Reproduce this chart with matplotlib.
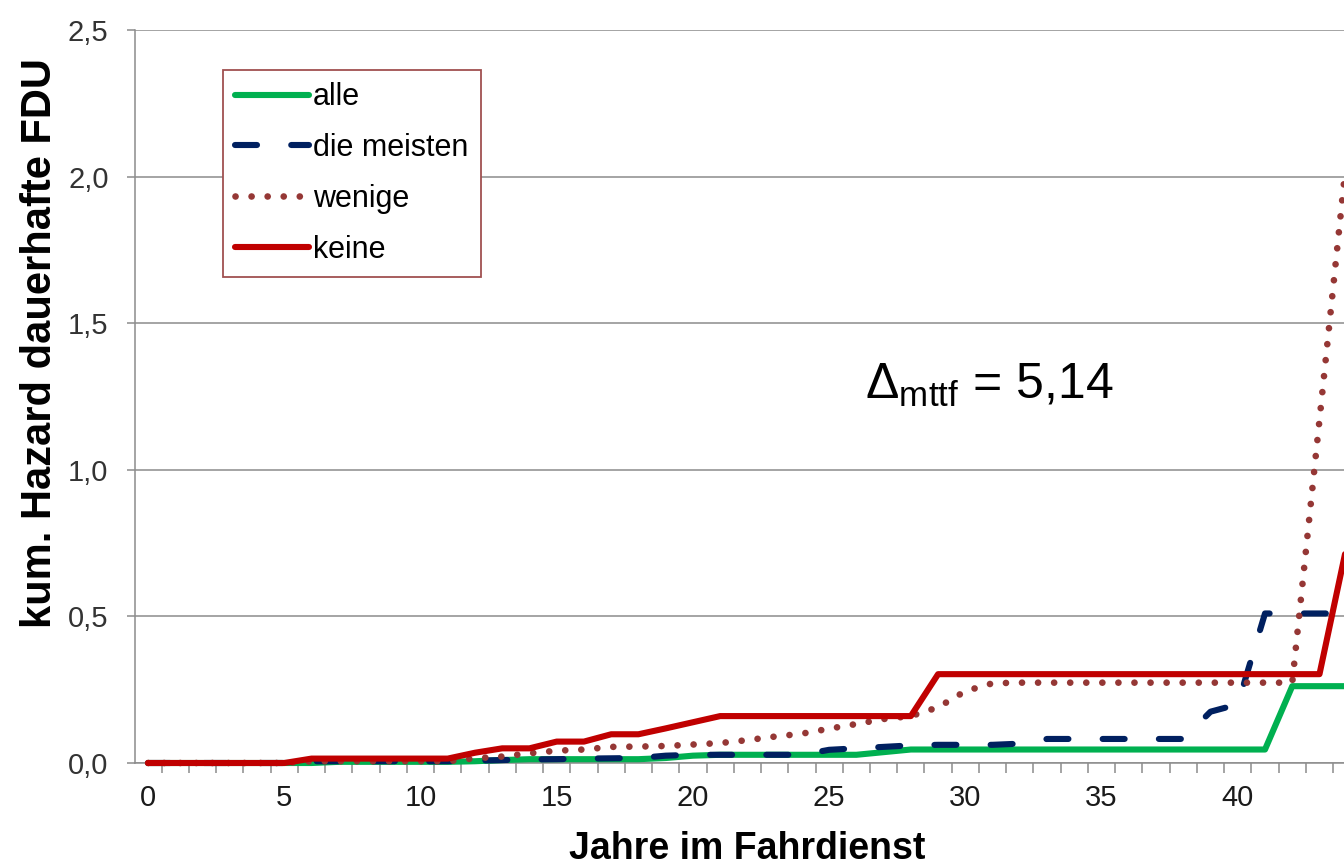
import matplotlib
matplotlib.use('Agg')
import matplotlib.pyplot as plt
import numpy as np
from matplotlib.ticker import FixedLocator, FuncFormatter

plt.rcParams['font.family'] = ['Liberation Sans', 'DejaVu Sans']
plt.rcParams['mathtext.fontset'] = 'custom'
plt.rcParams['mathtext.rm'] = 'Liberation Sans'
plt.rcParams['mathtext.it'] = 'Liberation Sans'

# Jahre im Fahrdienst
years = np.arange(0, 45)

# kumulierter Hazard je Gruppe
alle = [0, 0, 0, 0, 0, 0, 0, 0.004, 0.004, 0.004, 0.004, 0.004, 0.006, 0.01, 0.013,
        0.013, 0.013, 0.013, 0.013, 0.017, 0.025, 0.028, 0.028, 0.028, 0.028, 0.028,
        0.028, 0.037, 0.046, 0.046, 0.046, 0.046, 0.046, 0.046, 0.046, 0.046, 0.046,
        0.046, 0.046, 0.046, 0.046, 0.046, 0.262, 0.262, 0.262]
die_meisten = [0, 0, 0, 0, 0, 0, 0.006, 0.006, 0.006, 0.006, 0.006, 0.006, 0.008, 0.01,
               0.012, 0.013, 0.015, 0.016, 0.017, 0.025, 0.028, 0.028, 0.028, 0.028,
               0.028, 0.045, 0.05, 0.055, 0.06, 0.062, 0.062, 0.062, 0.066, 0.082, 0.082,
               0.082, 0.082, 0.082, 0.082, 0.175, 0.2, 0.51, 0.51, 0.51, 0.51]
wenige = [0, 0, 0, 0, 0, 0, 0.006, 0.006, 0.006, 0.006, 0.006, 0.006, 0.016, 0.022,
          0.033, 0.042, 0.046, 0.055, 0.056, 0.058, 0.063, 0.068, 0.078, 0.09, 0.10,
          0.117, 0.133, 0.15, 0.16, 0.19, 0.245, 0.272, 0.274, 0.274, 0.274, 0.274,
          0.274, 0.274, 0.274, 0.274, 0.274, 0.274, 0.274, 1.17, 2.07]
keine = [0, 0, 0, 0, 0, 0, 0.015, 0.015, 0.015, 0.015, 0.015, 0.015, 0.035, 0.05, 0.05,
         0.073, 0.073, 0.098, 0.098, 0.118, 0.139, 0.16, 0.16, 0.16, 0.16, 0.16, 0.16,
         0.16, 0.16, 0.303, 0.303, 0.303, 0.303, 0.303, 0.303, 0.303, 0.303, 0.303,
         0.303, 0.303, 0.303, 0.303, 0.303, 0.303, 0.74]

y_ticks = [0, 0.5, 1.0, 1.5, 2.0, 2.5]
x_ticks = [0, 5, 10, 15, 20, 25, 30, 35, 40]

W, H = 1344, 866
fig = plt.figure(figsize=(W / 100, H / 100), dpi=100)
ax = fig.add_axes([135 / W, 1 - 763 / H, 1 - 135 / W, (763 - 30) / H])

lw = 4.4
ax.plot(years, alle, color='#00B050', lw=lw, solid_capstyle='round',
        solid_joinstyle='round', clip_on=False, label='alle', zorder=3)
ax.plot(years, die_meisten, color='#002060', lw=lw, dashes=(3.6, 5.6),
        dash_capstyle='round', dash_joinstyle='round', clip_on=False,
        label='die meisten', zorder=4)
ax.plot(years, wenige, color='#953735', lw=4.8, dashes=(0.01, 2.4),
        dash_capstyle='round', clip_on=False, label='wenige', zorder=5)
ax.plot(years, keine, color='#C00000', lw=lw, solid_capstyle='round',
        solid_joinstyle='round', clip_on=False, label='keine', zorder=6)

ax.set_xlim(-0.48, 43.9)
ax.set_ylim(0, 2.5)

grid_col = '#8C8C8C'
ax.yaxis.set_major_locator(FixedLocator(y_ticks))
ax.yaxis.set_major_formatter(FuncFormatter(lambda v, p: f'{v:.1f}'.replace('.', ',')))
ax.grid(axis='y', color=grid_col, lw=1.1)
ax.set_axisbelow(True)

ax.xaxis.set_major_locator(FixedLocator(x_ticks))
ax.xaxis.set_minor_locator(FixedLocator(np.arange(-0.5, 44, 1)))
ax.tick_params(axis='x', which='major', length=0, pad=15, labelsize=21, labelcolor='#1a1a1a')
ax.tick_params(axis='x', which='minor', length=7, width=1.1, color=grid_col, direction='out')
ax.tick_params(axis='y', length=6, width=1.1, color=grid_col, pad=13, labelsize=21,
               labelcolor='#333333')

for side in ['top', 'right']:
    ax.spines[side].set_visible(False)
for side in ['left', 'bottom']:
    ax.spines[side].set_color(grid_col)
    ax.spines[side].set_linewidth(1.1)

fig.text(40 / W, 1 - 343 / H, 'kum. Hazard dauerhafte FDU', rotation=90,
         fontsize=30, fontweight='bold', ha='center', va='center')
fig.text(747 / W, 1 - 831 / H, 'Jahre im Fahrdienst', fontsize=27,
         fontweight='bold', ha='center', va='top')

fig.text(865 / W, 1 - 385 / H, r'$\Delta_{\mathrm{mttf}}$ = 5,14', fontsize=36,
         ha='left', va='center')

leg = ax.legend(loc='upper left', bbox_to_anchor=(223 / W, 1 - 70 / H),
                bbox_transform=fig.transFigure, fontsize=22, frameon=True,
                fancybox=False, edgecolor='#A05050', framealpha=1,
                handlelength=2.4, handletextpad=0.15, labelspacing=0.68,
                borderpad=0.4, borderaxespad=0)
leg.get_frame().set_linewidth(1.3)

fig.savefig('out.png', dpi=100)
